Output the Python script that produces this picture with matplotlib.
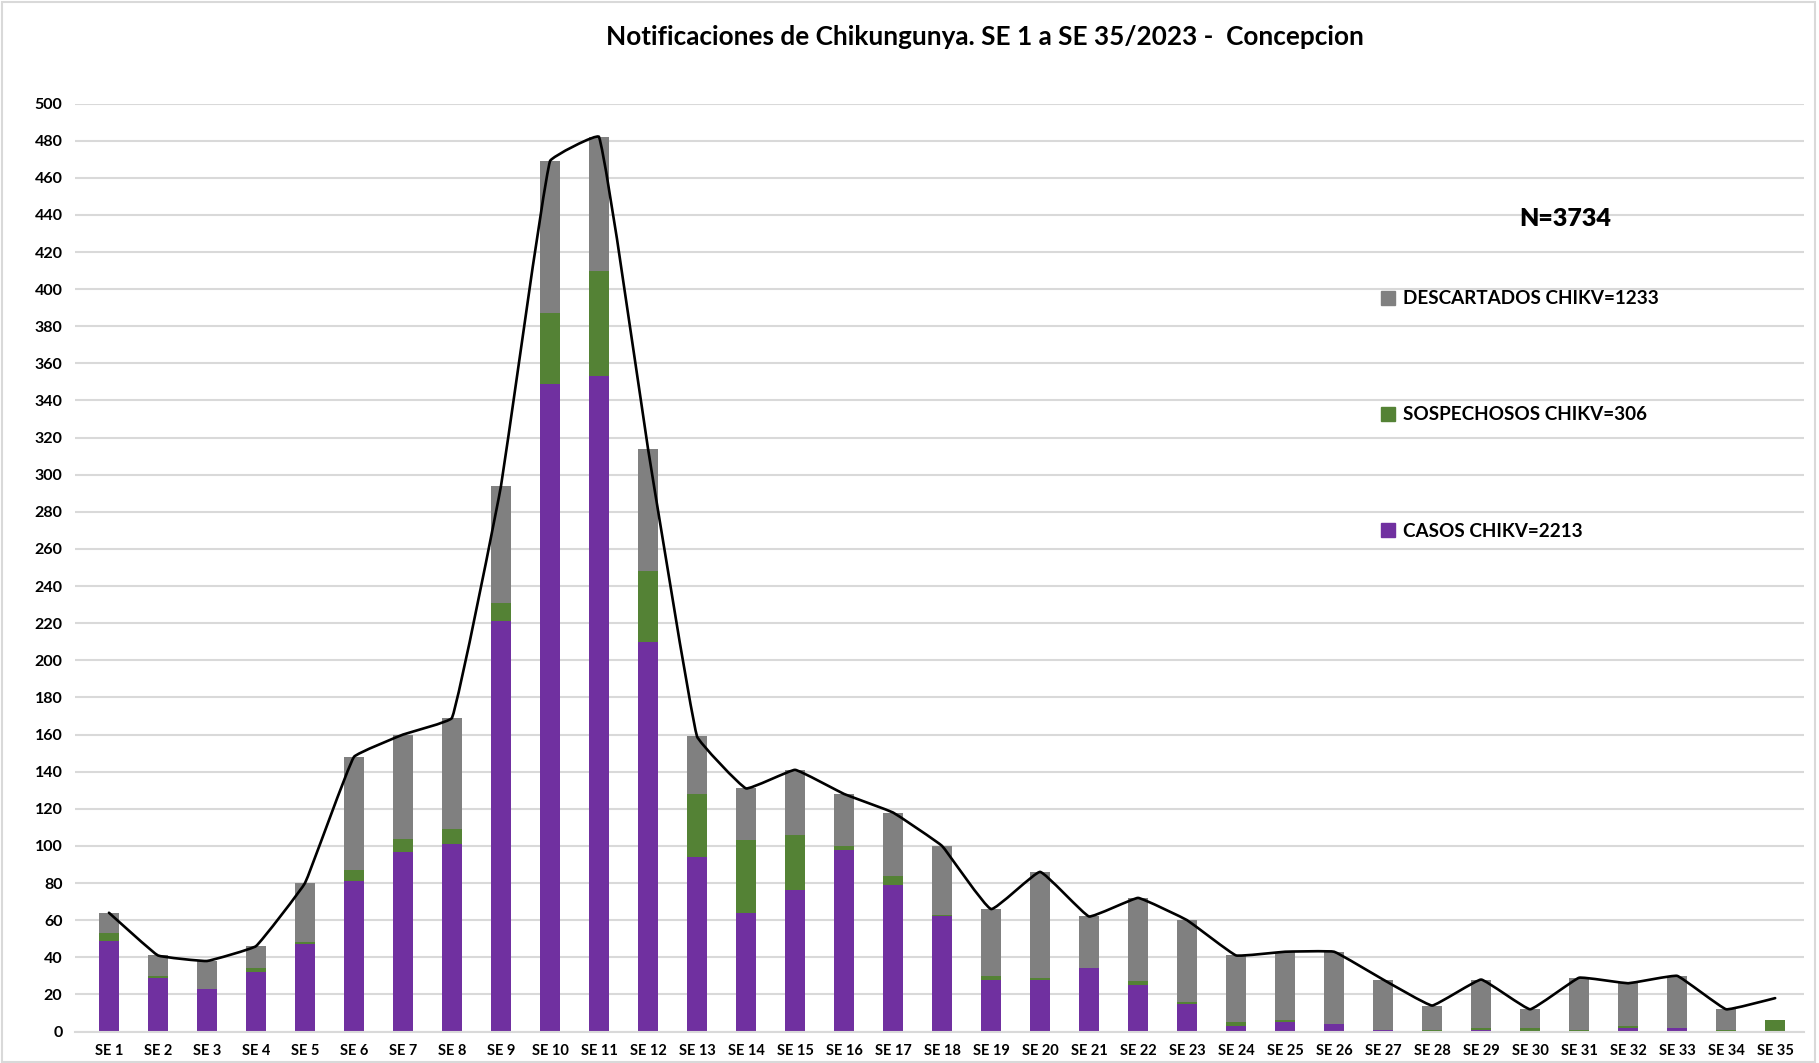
import numpy as np
import matplotlib
matplotlib.use('Agg')
from matplotlib import pyplot as plt
from matplotlib.patches import Patch, Rectangle, PathPatch
from matplotlib.path import Path

# weekly notifications, SE 1 .. SE 35
weeks = ['SE %d' % i for i in range(1, 36)]
casos = [49, 29, 23, 32, 47, 81, 97, 101, 221, 349, 353, 210, 94, 64, 76, 98, 79, 62,
         28, 28, 34, 25, 15, 3, 5, 4, 1, 0, 1, 0, 0, 2, 2, 0, 0]
sospechosos = [4, 1, 0, 2, 1, 6, 7, 8, 10, 38, 57, 38, 34, 39, 30, 2, 5, 1,
               2, 1, 0, 2, 1, 2, 1, 0, 0, 1, 1, 2, 1, 1, 0, 1, 6]
descartados = [11, 11, 15, 12, 32, 61, 56, 60, 63, 82, 72, 66, 31, 28, 35, 28, 34, 37,
               36, 57, 28, 45, 44, 36, 37, 39, 27, 13, 26, 10, 28, 23, 28, 11, 0]
total_line = [64, 41, 38, 46, 80, 148, 160, 169, 294, 469, 482, 314, 159, 131, 141, 128, 118, 100,
              66, 86, 62, 72, 60, 41, 43, 43, 28, 14, 28, 12, 29, 26, 30, 12, 18]

legend_labels = ['DESCARTADOS CHIKV=1233', 'SOSPECHOSOS CHIKV=306', 'CASOS CHIKV=2213']
title = 'Notificaciones de Chikungunya. SE 1 a SE 35/2023 -  Concepcion'
n_label = 'N=3734'

PURPLE = '#7030A0'
GREEN = '#548235'
GRAY = '#808080'
GRID = '#D9D9D9'

plt.rcParams['font.family'] = ['Lato', 'DejaVu Sans']
plt.rcParams['font.weight'] = 'bold'


def smooth_path(xs, ys, sx=49.0, sy=1.856, t=0.08):
    """Excel-like smoothed line: cubic bezier through the data points."""
    P = np.column_stack([np.asarray(xs, float) * sx, np.asarray(ys, float) * sy])
    n = len(P)
    verts = [P[0]]
    codes = [Path.MOVETO]
    for i in range(n - 1):
        a, b = P[i], P[i + 1]
        L = np.hypot(*(b - a))
        da = (P[i + 1] - P[i - 1]) if i > 0 else (b - a)
        db = (P[i + 2] - P[i]) if i + 2 < n else (b - a)
        da = da / np.hypot(*da)
        db = db / np.hypot(*db)
        verts += [a + da * L * t, b - db * L * t, b]
        codes += [Path.CURVE4] * 3
    verts = np.array(verts) / [sx, sy]
    return Path(verts, codes)


fig = plt.figure(figsize=(18.19, 10.63), dpi=100)
ax = fig.add_axes([0.0412, 0.0296, 0.9506, 0.873])

x = np.arange(len(weeks))
bottom2 = np.array(casos)
bottom3 = bottom2 + np.array(sospechosos)
ax.bar(x, casos, width=0.4, color=PURPLE, zorder=2)
ax.bar(x, sospechosos, width=0.4, bottom=bottom2, color=GREEN, zorder=2)
ax.bar(x, descartados, width=0.4, bottom=bottom3, color=GRAY, zorder=2)

ax.add_patch(PathPatch(smooth_path(x, total_line), fill=False, edgecolor='black',
                       lw=1.9, zorder=3, capstyle='round', joinstyle='round'))

ax.set_xlim(-0.694, 34.59)
ax.set_ylim(0, 500)
ax.set_yticks(np.arange(0, 501, 20))
ax.set_xticks(x)
ax.set_xticklabels(weeks, fontsize=10.5, fontweight='bold')
ax.tick_params(axis='y', labelsize=11.5, length=0, pad=9)
ax.tick_params(axis='x', length=0, pad=9)
ax.grid(axis='y', color=GRID, lw=1.5, zorder=0)
ax.set_axisbelow(True)
for s in ['top', 'right', 'left']:
    ax.spines[s].set_visible(False)
ax.spines['bottom'].set_color(GRID)
ax.spines['bottom'].set_linewidth(1.5)

handles = [Patch(color=GRAY), Patch(color=GREEN), Patch(color=PURPLE)]
fig.legend(handles, legend_labels, loc='upper left', bbox_to_anchor=(0.759, 0.727),
           frameon=False, labelspacing=5.25, handlelength=0.75,
           handleheight=0.75, handletextpad=0.45, borderpad=0, borderaxespad=0,
           prop={'weight': 'bold', 'size': 13.6})

fig.text(0.8605, 0.794, n_label, ha='center', va='center', fontsize=18, fontweight='heavy')
fig.text(0.5415, 0.965, title, ha='center', va='center', fontsize=18.8, fontweight='bold')

fig.add_artist(Rectangle((0.001, 0.001), 0.997, 0.997, transform=fig.transFigure,
                         fill=False, edgecolor=GRID, lw=1.5))

fig.savefig('out.png', dpi=100)
